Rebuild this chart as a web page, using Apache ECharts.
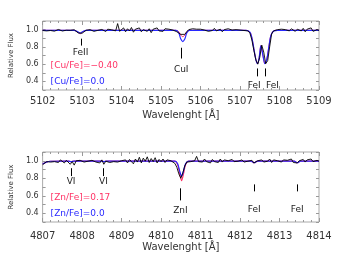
<!DOCTYPE html>
<html><head><meta charset="utf-8">
<script src="https://cdn.jsdelivr.net/npm/echarts@6/dist/echarts.min.js"></script>
<style>html,body{margin:0;padding:0;background:#fff}#c{width:339px;height:255px}</style>
</head><body><div id="c"></div>
<script>
// ---------- DATA ----------
var xTicksTop = [5102, 5103, 5104, 5105, 5106, 5107, 5108, 5109];
var xTicksBot = [4807, 4808, 4809, 4810, 4811, 4812, 4813, 4814];
var yTicks = [0.4, 0.6, 0.8, 1.0];
var obsStepTop = 0.05, obsStartTop = 5102.0;
var obsTop = [
0.990,1.000,0.985,0.995,0.990,1.005,0.982,0.995,1.002,0.988,0.984,1.000,0.993,0.978,0.992,0.985,0.998,0.978,0.962,0.950,
0.958,0.975,0.992,0.985,1.000,0.990,0.980,1.003,0.992,0.985,1.002,0.995,0.978,1.005,0.990,0.998,1.010,0.985,1.070,0.980,
0.995,1.020,0.975,1.010,0.985,1.025,0.970,1.005,0.990,1.020,0.975,1.000,1.015,0.980,1.010,0.965,1.005,0.990,1.020,0.985,
1.000,0.980,1.010,0.990,1.005,0.985,0.995,1.010,0.975,0.960,0.945,0.930,0.945,0.975,1.000,0.985,1.010,0.990,1.005,0.985,
1.005,0.990,0.995,1.010,0.980,1.000,0.990,1.015,0.985,0.995,1.005,0.975,1.000,0.985,1.010,0.990,0.995,0.990,1.000,0.992,
0.995,0.998,0.990,0.995,0.985,0.960,0.880,0.760,0.650,0.600,0.680,0.820,0.740,0.605,0.640,0.800,0.950,0.985,0.990,1.000,
0.985,1.005,0.990,1.000,0.995,0.985,1.010,0.990,0.980,1.005,0.995,0.985,1.015,0.975,1.005,0.990,1.020,0.980,0.975,1.000,
0.990];
var synBlueTop = [[5102.0,0.992],[5102.8,0.992],[5102.88,0.978],[5102.95,0.958],[5103.02,0.978],[5103.1,0.992],
[5105.38,0.992],[5105.45,0.96],[5105.5,0.89],[5105.55,0.862],[5105.6,0.89],[5105.65,0.96],[5105.72,0.992],
[5107.15,0.992],[5107.25,0.972],[5107.3,0.905],[5107.35,0.78],[5107.4,0.655],[5107.44,0.605],[5107.48,0.66],
[5107.53,0.815],[5107.58,0.70],[5107.63,0.605],[5107.68,0.66],[5107.73,0.80],[5107.78,0.93],[5107.85,0.985],[5107.95,0.992],[5109.0,0.992]];
var synRedTop = [[5102.0,0.992],[5102.8,0.992],[5102.88,0.975],[5102.95,0.952],[5103.02,0.975],[5103.1,0.992],
[5105.38,0.992],[5105.45,0.975],[5105.5,0.935],[5105.55,0.918],[5105.6,0.935],[5105.65,0.975],[5105.72,0.992],
[5107.15,0.992],[5107.25,0.972],[5107.3,0.905],[5107.35,0.78],[5107.4,0.655],[5107.44,0.605],[5107.48,0.66],
[5107.53,0.815],[5107.58,0.70],[5107.63,0.605],[5107.68,0.66],[5107.73,0.80],[5107.78,0.93],[5107.85,0.985],[5107.95,0.992],[5109.0,0.992]];
var obsStartBot = 4807.0, obsStepBot = 0.05;
var obsBot = [
0.955,0.975,0.990,1.010,0.985,1.005,0.990,1.000,0.980,1.010,0.990,0.975,1.005,0.985,0.960,0.990,0.950,1.000,0.985,1.005,
0.990,0.985,1.000,0.995,0.980,1.005,0.990,0.985,1.000,0.975,1.010,0.960,0.995,1.005,0.980,1.000,0.990,1.010,0.985,0.995,
1.000,0.980,1.010,0.975,1.015,0.990,0.965,1.020,0.985,1.040,0.975,1.030,0.995,1.045,0.980,1.025,0.990,1.035,0.975,1.015,
0.990,1.020,0.980,1.010,0.995,1.000,0.985,0.970,0.925,0.850,0.800,0.860,0.940,0.985,1.005,0.990,1.010,1.000,1.050,0.990,
1.010,0.985,1.020,0.990,1.000,0.975,1.015,0.990,1.005,0.980,1.020,0.985,1.010,0.995,1.000,0.985,1.015,0.990,1.005,0.995,
0.990,1.010,0.985,1.000,0.995,0.980,1.005,0.975,0.985,1.000,0.990,1.010,0.985,1.005,0.995,1.020,0.980,1.010,0.990,1.000,
1.015,0.985,1.010,0.990,1.005,0.995,1.020,0.980,0.985,0.975,1.000,0.990,1.015,0.985,1.010,0.995,1.020,0.990,1.010,1.005,
0.995];
var synBlueBot = [[4807.0,0.962],[4807.08,0.982],[4807.2,0.994],[4807.65,0.996],[4807.72,0.99],[4807.8,0.996],
[4808.5,0.996],[4808.55,0.99],[4808.62,0.996],[4810.35,0.996],[4810.42,0.965],[4810.47,0.885],[4810.52,0.822],
[4810.57,0.885],[4810.62,0.965],[4810.7,0.996],[4812.28,0.996],[4812.36,0.978],[4812.44,0.996],
[4813.37,0.996],[4813.45,0.978],[4813.53,0.996],[4814.0,0.996]];
var synRedBot = [[4807.0,0.962],[4807.08,0.982],[4807.2,0.994],[4807.65,0.996],[4807.72,0.99],[4807.8,0.996],
[4808.5,0.996],[4808.55,0.99],[4808.62,0.996],[4810.35,0.996],[4810.42,0.955],[4810.47,0.855],[4810.52,0.772],
[4810.57,0.855],[4810.62,0.955],[4810.7,0.996],[4812.28,0.996],[4812.36,0.978],[4812.44,0.996],
[4813.37,0.996],[4813.45,0.978],[4813.53,0.996],[4814.0,0.996]];
// line identifications: [name, markWavelength, markTop, markBottom, textWavelength, textY]
var linesTop = [["FeII",5102.96,0.895,0.815,5102.96,0.735],["CuI",5105.51,0.79,0.665,5105.51,0.54],
                ["FeI",5107.44,0.55,0.458,5107.36,0.354],["FeI",5107.63,0.55,0.458,5107.82,0.354]];
var linesBot = [["VI",4807.72,0.915,0.825,4807.72,0.765],["VI",4808.54,0.915,0.825,4808.54,0.765],
                ["ZnI",4810.49,0.685,0.547,4810.49,0.43],
                ["FeI",4812.36,0.73,0.65,4812.36,0.443],["FeI",4813.45,0.73,0.65,4813.45,0.443]];
var labelsTop = ["[Cu/Fe]=\u22120.40", "[Cu/Fe]=0.0"];
var labelsBot = ["[Zn/Fe]=0.17", "[Zn/Fe]=0.0"];
var RED = "#ff3366", BLUE = "#2828ff";

// ---------- BUILD ----------
function pairs(start, step, vals){ return vals.map(function(v,i){ return [+(start+i*step).toFixed(3), v]; }); }
var FONT = "DejaVu Sans";
function xAxisFor(gi, min, max, gap, margin){
  return [{gridIndex:gi, type:'value', min:min, max:max, interval:1,
    axisLine:{show:false}, splitLine:{show:false},
    axisTick:{inside:true, length:4, lineStyle:{color:'#999'}},
    minorTick:{show:true, splitNumber:5, length:2, lineStyle:{color:'#999'}},
    axisLabel:{fontSize:10, color:'#333', margin:margin, fontFamily:FONT, formatter:function(v){return String(v);}},
    name:'Wavelenght [\u00c5]', nameLocation:'middle', nameGap:gap,
    nameTextStyle:{fontSize:10, color:'#333', fontFamily:FONT}},
   {gridIndex:gi, type:'value', position:'top', min:min, max:max, interval:1,
    axisLine:{show:false}, splitLine:{show:false}, axisLabel:{show:false},
    axisTick:{inside:true, length:4, lineStyle:{color:'#999'}},
    minorTick:{show:true, splitNumber:5, length:2, lineStyle:{color:'#999'}}}];
}
function yAxisFor(gi){
  return [{gridIndex:gi, type:'value', min:0.3, max:1.1, interval:0.1,
    axisLine:{show:false}, splitLine:{show:false},
    axisTick:{inside:true, length:3, lineStyle:{color:'#999'}},
    axisLabel:{fontSize:8, color:'#333', margin:4, fontFamily:FONT,
      formatter:function(v){ var r=Math.round(v*10); return (r%2===0 && r>=4 && r<=10)? (r/10).toFixed(1):''; }},
    name:'Relative Flux', nameLocation:'middle', nameGap:19, nameRotate:90,
    nameTextStyle:{fontSize:7, color:'#333', fontFamily:FONT}},
   {gridIndex:gi, type:'value', position:'right', min:0.3, max:1.1, interval:0.1,
    axisLine:{show:false}, splitLine:{show:false}, axisLabel:{show:false},
    axisTick:{inside:true, length:3, lineStyle:{color:'#999'}}}];
}
function idSeries(xi, yi, lines){
  return {type:'custom', xAxisIndex:xi, yAxisIndex:yi, silent:true, z:6,
    data: lines.map(function(l){ return [l[1], l[2], l[3], l[4], l[5]]; }),
    renderItem:function(params, api){
      var p1 = api.coord([api.value(0), api.value(1)]);
      var p2 = api.coord([api.value(0), api.value(2)]);
      var p3 = api.coord([api.value(3), api.value(4)]);
      var name = lines[params.dataIndex][0];
      return {type:'group', children:[
        {type:'line', shape:{x1:Math.round(p1[0])+0.5, y1:p1[1], x2:Math.round(p2[0])+0.5, y2:p2[1]}, style:{stroke:'#000', lineWidth:1}},
        {type:'text', x:p3[0], y:p3[1], style:{text:name, fill:'#222', font:'9px "DejaVu Sans"', align:'center', verticalAlign:'middle'}}
      ]};
    }};
}
function lbl(xi, yi, txt, color, y){
  return {type:'custom', xAxisIndex:xi, yAxisIndex:yi, silent:true, z:6, data:[[0,y]],
    renderItem:function(params, api){
      var p = api.coord([api.value(0), api.value(1)]);
      return {type:'text', x:params.coordSys.x + 8, y:p[1], style:{text:txt, fill:color, font:'9px "DejaVu Sans"', align:'left', verticalAlign:'middle'}};
    }};
}
function ln(xi, yi, data, color, w, z, smooth){
  return {type:'line', xAxisIndex:xi, yAxisIndex:yi, data:data, showSymbol:false, symbol:'none', z:z,
    lineStyle:{color:color, width:w}, smooth:smooth, animation:false};
}
var series = [
  ln(0,0,synRedTop, RED, 1, 2, 0.3),
  ln(0,0,synBlueTop, BLUE, 1.2, 3, 0.3),
  ln(0,0,pairs(obsStartTop, obsStepTop, obsTop), '#000', 0.9, 4, false),
  idSeries(0,0,linesTop),
  lbl(0,0,labelsTop[0],RED,0.58), lbl(0,0,labelsTop[1],BLUE,0.40),
  ln(2,2,synRedBot, RED, 1.2, 2, 0.3),
  ln(2,2,synBlueBot, BLUE, 1.2, 3, 0.3),
  ln(2,2,pairs(obsStartBot, obsStepBot, obsBot), '#000', 0.9, 4, false),
  idSeries(2,2,linesBot),
  lbl(2,2,labelsBot[0],RED,0.58), lbl(2,2,labelsBot[1],BLUE,0.39)
];
var xa = [].concat(xAxisFor(0,5102,5109,20,6), xAxisFor(1,4807,4814,20,9));
var ya = [].concat(yAxisFor(0), yAxisFor(1));
var chart = echarts.init(document.getElementById('c'), null, {renderer:'canvas'});
chart.setOption({
  animation:false,
  grid:[{left:28, top:21, width:291, height:69, show:true, borderColor:'#aaa', borderWidth:1, backgroundColor:'transparent'},
        {left:28, top:152, width:291, height:70, show:true, borderColor:'#aaa', borderWidth:1, backgroundColor:'transparent'}],
  xAxis:xa, yAxis:ya, series:series
});
</script></body></html>
